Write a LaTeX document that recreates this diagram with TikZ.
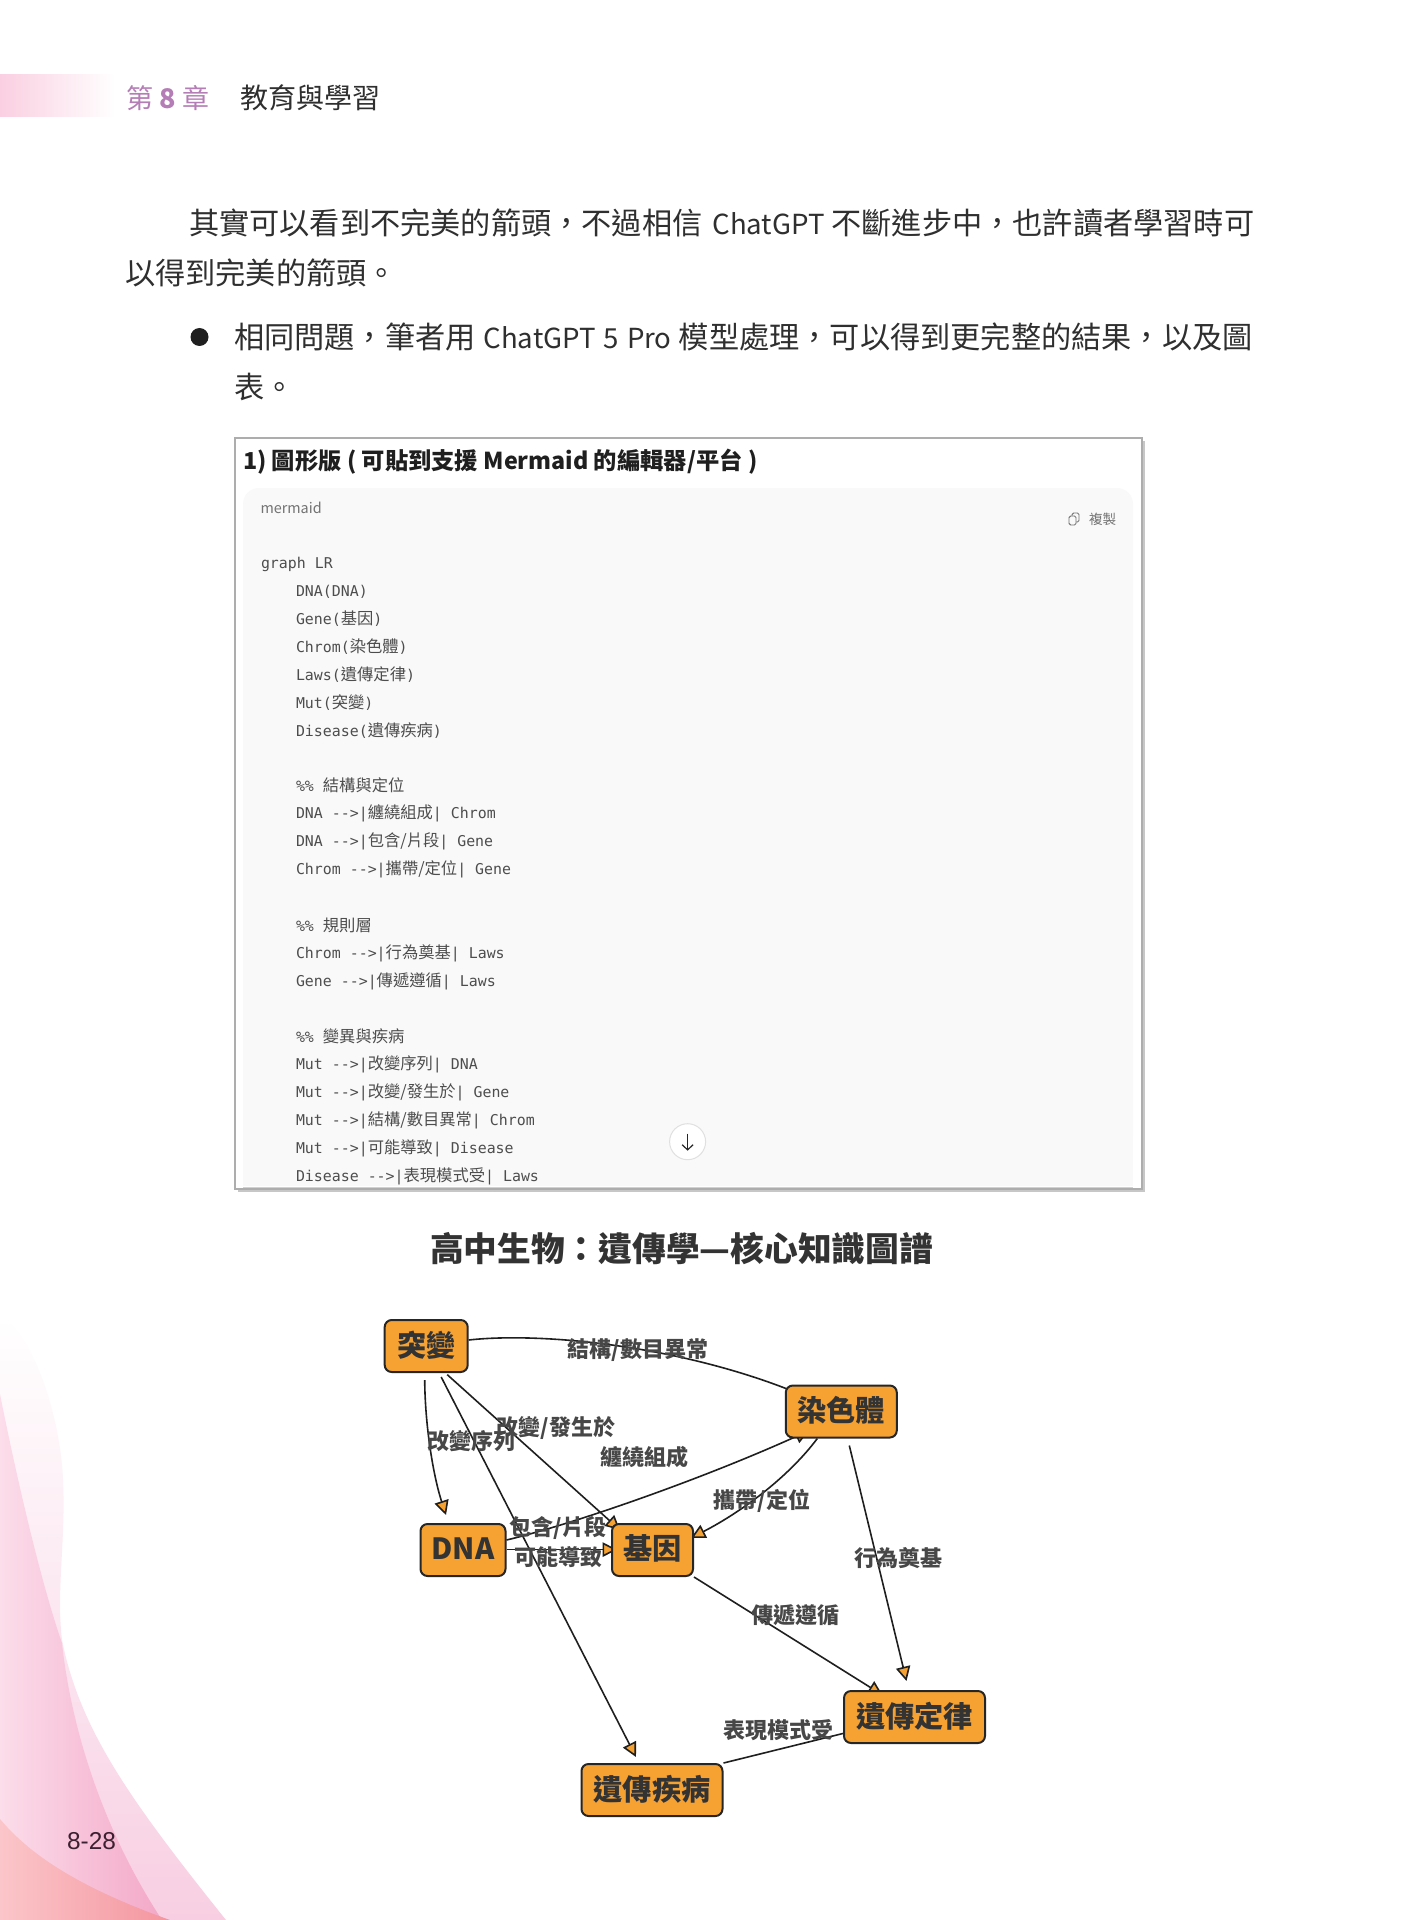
\documentclass[tikz,border=0pt]{standalone}
\usepackage{fontspec}
\usetikzlibrary{arrows.meta,calc}
\setmainfont{Noto Sans CJK TC}
\newfontfamily\cmono[Scale=0.914]{DejaVu Sans Mono}
\newfontfamily\arialish{Liberation Sans}
\newcommand{\ml}[1]{{\cmono #1}}
\newcommand{\fs}[1]{\fontsize{#1pt}{#1pt}\selectfont}
\newcommand{\lat}[1]{{\fontsize{13.8pt}{15pt}\selectfont #1}}
\newcommand{\st}{\rule{0pt}{.88em}\rule[-.12em]{0pt}{.12em}}
\newcommand{\stk}{\rule{0pt}{.82em}\rule[-.18em]{0pt}{.18em}}
\definecolor{orangeN}{HTML}{F6A233}
\definecolor{inkN}{HTML}{333333}
\definecolor{bodyN}{HTML}{2F2F2F}
\definecolor{codeN}{HTML}{4D4D4D}
\definecolor{panelN}{HTML}{F9F9F9}
\definecolor{purpleN}{HTML}{B57DB6}
\definecolor{swA}{HTML}{F8CFE2}
\definecolor{swBl}{HTML}{FCDDEA}
\definecolor{swBr}{HTML}{F3A8C8}
\definecolor{swCl}{HTML}{FBC6C9}
\definecolor{swCr}{HTML}{F4959F}
\definecolor{bandN}{HTML}{FACFE1}
\pgfdeclarelayer{bg}
\pgfsetlayers{bg,main}
\tikzset{
  txt/.style={inner sep=0pt,outer sep=0pt,anchor=west,execute at begin node=\st},
  bodytxt/.style={txt,font=\fs{15.1},text=bodyN},
  codetxt/.style={txt,font=\fs{8.15},text=codeN},
  kbox/.style={draw=black!85,line width=1pt,fill=orangeN,rounded corners=3.5pt,
    minimum height=26pt,inner sep=0pt,font=\fs{14.6}\bfseries,text=inkN,execute at begin node=\stk},
  elab/.style={inner sep=0pt,outer sep=0pt,font=\fs{11}\bfseries,text=black!72,execute at begin node=\st},
  edge/.style={draw=black!88,line width=.8pt},
  head/.style={edge,-{Triangle[length=7.2pt,width=7.2pt,fill=orangeN]}},
}
\begin{document}
\begin{tikzpicture}[x=0.5pt,y=-0.5pt]
\useasboundingbox (0,0) rectangle (1419,1920);
\begin{pgfonlayer}{bg}
\fill[white] (0,0) rectangle (1419,1920);
% page decoration
\shade[top color=white,bottom color=swA] (0,1317) .. controls (30,1330) and (60,1410) .. (63,1480) .. controls (66,1540) and (56,1590) .. (62,1640) .. controls (80,1730) and (130,1800) .. (226,1920) -- (0,1920) -- cycle;
\shade[left color=swBl,right color=swBr] (0,1394) .. controls (15,1470) and (40,1580) .. (62,1643) .. controls (68,1700) and (90,1810) .. (162,1920) -- (0,1920) -- cycle;
\shade[left color=swCl,right color=swCr] (0,1819) .. controls (30,1855) and (80,1888) .. (170,1920) -- (0,1920) -- cycle;
\shade[left color=bandN,right color=white] (0,75) rectangle (115,117);
% screenshot panel
\fill[black!22] (238,441) rectangle (1145,1192);
\draw[draw=black!32,line width=.9pt,fill=white] (235,438) rectangle (1142,1189);
\fill[panelN,rounded corners=8pt] (243,488) rectangle (1133,1150);
\fill[panelN] (243,520) rectangle (1133,1186);
\draw[black!18,line width=.5pt] (243,1187) -- (1133,1187);
\end{pgfonlayer}

% header
\node[txt,font=\fs{13.5},text=purpleN] (chapno) at (126,98) {第\hspace{3.3pt}{\bfseries 8}\hspace{3.3pt}章};
\node[txt,font=\fs{14},text=bodyN] (chapname) at (240,98) {教育與學習};

% body text
\node[bodytxt] (l1) at (189,223) {其實可以看到不完美的箭頭，不過相信\hspace{5pt}\lat{ChatGPT}\hspace{3.5pt}不斷進步中，也許讀者學習時可};
\node[bodytxt] (l2) at (125,273) {以得到完美的箭頭。};
\node[circle,fill=black!88,minimum size=9pt,inner sep=0pt] (bullet) at (199.5,337) {};
\node[bodytxt] (l3) at (234,337) {相同問題，筆者用\hspace{4pt}\lat{ChatGPT}\hspace{4pt}\lat{5}\hspace{4pt}\lat{Pro}\hspace{3.6pt}模型處理，可以得到更完整的結果，以及圖};
\node[bodytxt] (l4) at (234,387) {表。};

% screenshot texts
\node[txt,font=\fs{11.65}\bfseries,text=black!88] (phead) at (243,462) {1) 圖形版 ( 可貼到支援 Mermaid 的編輯器/平台 )};
\node[txt,font=\fs{7.2},text=black!55] (pmer) at (260.5,508) {mermaid};
\draw[black!55,line width=.45pt,rounded corners=.8pt] (1069,516) rectangle (1076,525);
\draw[black!55,line width=.45pt,rounded corners=.8pt] (1072,516) -- (1072,513) -- (1079,513) -- (1079,522) -- (1076,522);
\node[txt,font=\fs{6.8},text=black!55] (pcopy) at (1089,519) {複製};

\node[codetxt] (c0) at (261,562.7) {\ml{graph LR}};
\node[codetxt] (c1) at (296,590.6) {\ml{DNA(DNA)}};
\node[codetxt] (c2) at (296,618.4) {\ml{Gene(}基因\ml{)}};
\node[codetxt] (c3) at (296,646.3) {\ml{Chrom(}染色體\ml{)}};
\node[codetxt] (c4) at (296,674.2) {\ml{Laws(}遺傳定律\ml{)}};
\node[codetxt] (c5) at (296,702.0) {\ml{Mut(}突變\ml{)}};
\node[codetxt] (c6) at (296,729.9) {\ml{Disease(}遺傳疾病\ml{)}};
\node[codetxt] (c8) at (296,785.7) {\ml{\%\% }結構與定位};
\node[codetxt] (c9) at (296,813.5) {\ml{DNA -->|}纏繞組成\ml{| Chrom}};
\node[codetxt] (c10) at (296,841.4) {\ml{DNA -->|}包含/片段\ml{| Gene}};
\node[codetxt] (c11) at (296,869.3) {\ml{Chrom -->|}攜帶/定位\ml{| Gene}};
\node[codetxt] (c13) at (296,925.0) {\ml{\%\% }規則層};
\node[codetxt] (c14) at (296,952.9) {\ml{Chrom -->|}行為奠基\ml{| Laws}};
\node[codetxt] (c15) at (296,980.7) {\ml{Gene -->|}傳遞遵循\ml{| Laws}};
\node[codetxt] (c17) at (296,1036.5) {\ml{\%\% }變異與疾病};
\node[codetxt] (c18) at (296,1064.4) {\ml{Mut -->|}改變序列\ml{| DNA}};
\node[codetxt] (c19) at (296,1092.2) {\ml{Mut -->|}改變/發生於\ml{| Gene}};
\node[codetxt] (c20) at (296,1120.1) {\ml{Mut -->|}結構/數目異常\ml{| Chrom}};
\node[codetxt] (c21) at (296,1148.0) {\ml{Mut -->|}可能導致\ml{| Disease}};
\node[codetxt] (c22) at (296,1175.8) {\ml{Disease -->|}表現模式受\ml{| Laws}};

\node[circle,draw=black!12,line width=.5pt,fill=white,minimum size=18pt,inner sep=0pt] (scroll) at (687.6,1141.7) {};
\draw[black!85,line width=.6pt,-{Straight Barb[length=2.6pt,width=5.5pt]}] ([shift={(0,-8)}]scroll.center) -- ([shift={(0,9)}]scroll.center);

% graph
\node[txt,anchor=center,font=\fs{16.85}\bfseries,text=inkN] (gtitle) at (681.5,1249) {高中生物：遺傳學—核心知識圖譜};

\node[kbox,minimum width=41.5pt] (mut) at (426.2,1346) {突變};
\node[kbox,minimum width=55.5pt] (chrom) at (841.3,1411.5) {染色體};
\node[kbox,minimum width=42.5pt] (dna) at (463,1550) {DNA};
\node[kbox,minimum width=40.5pt] (gene) at (652.5,1550) {基因};
\node[kbox,minimum width=70.5pt] (laws) at (914.5,1717) {遺傳定律};
\node[kbox,minimum width=70.5pt] (disease) at (652,1790) {遺傳疾病};

\begin{pgfonlayer}{bg}
\draw[head] ([shift={(0,-6)}]mut.east) .. controls (540,1332) and (680,1345) .. ([shift={(26,14)}]chrom.north west);
\draw[head] ([shift={(-1.5,7)}]mut.south) .. controls (425,1425) and (433,1475) .. ([shift={(-17,-8)}]dna.north);
\draw[head] ([shift={(21,1.6)}]mut.south) -- ([shift={(9,7)}]gene.north west);
\draw[head] ([shift={(15,4)}]mut.south) -- ([shift={(-16,-6)}]disease.north);
\draw[head] ([shift={(0,-10)}]dna.east) .. controls (570,1525) and (700,1480) .. ([shift={(-32,-8)}]chrom.south);
\draw[head] ([shift={(0,-0.4)}]dna.east) -- ([shift={(6,-0.4)}]gene.west);
\draw[head] ([shift={(-24,0)}]chrom.south) .. controls (790,1475) and (745,1510) .. ([shift={(-3,-39)}]gene.south east);
\draw[head] ([shift={(8,7)}]chrom.south) -- ([shift={(-8,-9)}]laws.north);
\draw[head] (gene.south east) -- ([shift={(-32,5)}]laws.north);
\draw[head] (disease.north east) -- ([shift={(18,-15)}]laws.south west);
\end{pgfonlayer}

\node[elab] (e1) at (638,1349.6) {結構/數目異常};
\node[elab] (e2) at (471,1441) {改變序列};
\node[elab] (e3) at (556,1428) {改變/發生於};
\node[elab] (e4) at (644,1457) {纏繞組成};
\node[elab] (e5) at (762,1501) {攜帶/定位};
\node[elab] (e6) at (558,1528) {包含/片段};
\node[elab] (e7) at (558,1557) {可能導致};
\node[elab] (e8) at (898,1558) {行為奠基};
\node[elab] (e9) at (795,1615) {傳遞遵循};
\node[elab] (e10) at (778,1730) {表現模式受};

\node[txt,font=\arialish\fs{12.2},text={rgb,255:red,58;green,32;blue,48},anchor=center] (pageno) at (91.5,1840) {8-28};
\end{tikzpicture}
\end{document}
